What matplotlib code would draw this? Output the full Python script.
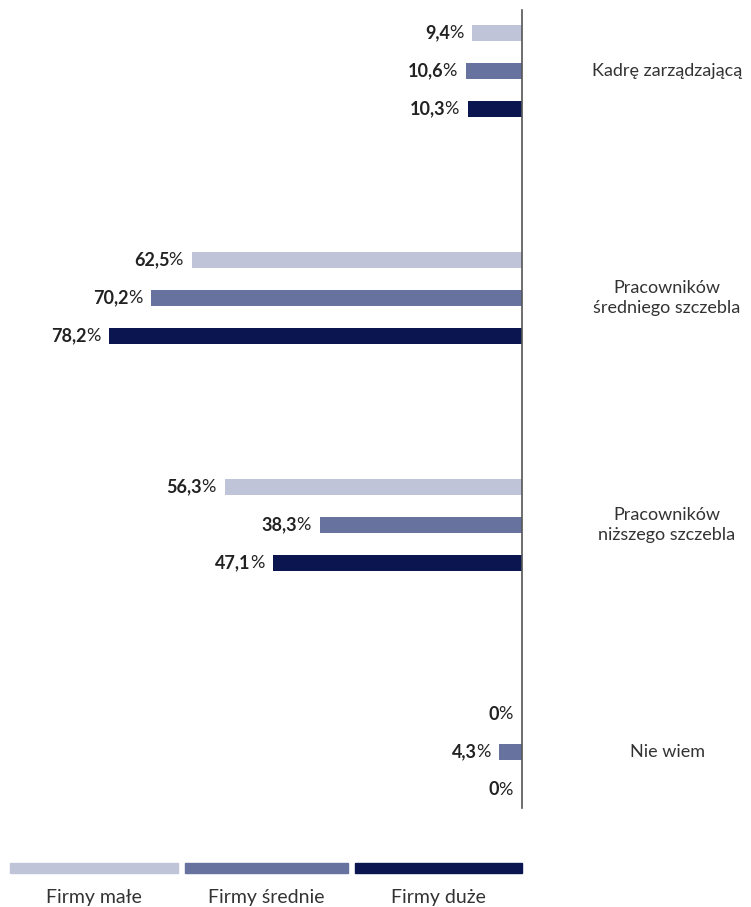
import numpy as np
import matplotlib
matplotlib.use('Agg')
import matplotlib.pyplot as plt
from matplotlib.patches import Rectangle

plt.rcParams['font.family'] = ['Lato', 'DejaVu Sans']

categories = ['Kadrę zarządzającą', 'Pracowników\nśredniego szczebla',
              'Pracowników\nniższego szczebla', 'Nie wiem']
series = ['Firmy małe', 'Firmy średnie', 'Firmy duże']
male = [9.4, 62.5, 56.3, 0]
srednie = [10.6, 70.2, 38.3, 4.3]
duze = [10.3, 78.2, 47.1, 0]
labels = [['9,4', '62,5', '56,3', '0'],
          ['10,6', '70,2', '38,3', '4,3'],
          ['10,3', '78,2', '47,1', '0']]
colors = ['#bfc4d9', '#68729f', '#0b1651']

W, H = 751, 907
fig = plt.figure(figsize=(W / 100, H / 100), dpi=100)
ax = fig.add_axes([0, 1 - 808 / H, 522 / W, 798 / H])

vals = [male, srednie, duze]
for j, v in enumerate(vals):
    y = np.arange(len(categories)) * 6 + j
    ax.barh(y, v, height=0.42, color=colors[j])
    for yy, val, lab in zip(y, v, labels[j]):
        pct = ax.annotate('%', xy=(val, yy), xytext=(-6.5, 0), textcoords='offset points',
                          ha='right', va='center', fontsize=13, color='#222222')
        ax.annotate(lab, xy=(0, 0.5), xycoords=pct, xytext=(0.6, 0),
                    textcoords='offset points', ha='right', va='center',
                    fontsize=13, fontweight='bold', color='#222222')

ax.set_xlim(98.9, 0)
ax.set_ylim(20.48, -0.61)
for s in ['top', 'left', 'bottom']:
    ax.spines[s].set_visible(False)
ax.spines['right'].set_color('#555555')
ax.spines['right'].set_linewidth(1.2)
ax.set_xticks([])
ax.set_yticks([])

# category labels on the right
for i, c in enumerate(categories):
    ypx = 1 - (33 + (i * 6 + 1) * 37.85) / H
    fig.text(667 / W, ypx, c, ha='center', va='center', fontsize=13,
             color='#333333', linespacing=1.35)

# legend
legend_x = [(10, 178), (185, 348), (355, 522)]
for (x0, x1), col, name in zip(legend_x, colors, series):
    fig.patches.append(Rectangle((x0 / W, 1 - 873 / H), (x1 - x0) / W, 10 / H,
                                 transform=fig.transFigure, color=col))
    fig.text((x0 + x1) / 2 / W, 1 - 897 / H, name, ha='center', va='center',
             fontsize=14, color='#333333')

fig.savefig('out.png', dpi=100)
